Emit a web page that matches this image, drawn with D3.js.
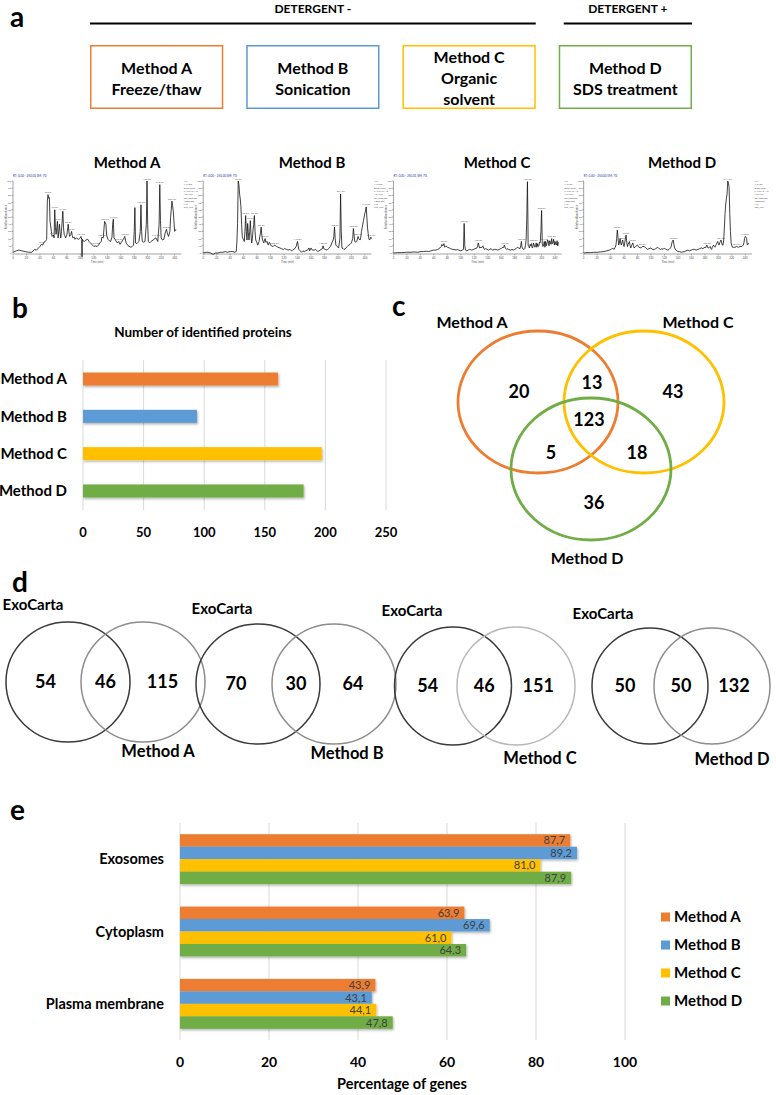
<!DOCTYPE html>
<meta charset="utf-8">
<style>
body { margin: 0; background: #fff; }
svg { font-family: Lato, "Open Sans", sans-serif; }
</style>
<svg width="776" height="1095"></svg>
<script src="https://d3js.org/d3.v7.min.js"></script>
<script>

var methods = ["Method A", "Method B", "Method C", "Method D"];
var methodColors = ["#ED7D31", "#5B9BD5", "#FFC000", "#70AD47"];
var methodSteps = [["Method A", "Freeze/thaw"], ["Method B", "Sonication"], ["Method C", "Organic", "solvent"], ["Method D", "SDS treatment"]];
var detergentGroups = [{label: "DETERGENT -", from: 0, to: 2}, {label: "DETERGENT +", from: 3, to: 3}];

// base peak chromatograms: [retention time (min), relative abundance (%)]
var chromA = [[0,1],[5,3],[9,4],[13,3],[18,2],[23,1],[28,1],[32,5],[35,4],[37,6],[40,9],[42,12],[44,11],[46,15],[48,16],[50,19],[51,72],[52,81],[53,76],[54,77],[55,44],[57,30],[58,23],[60,25],[61,21],[62,60],[63,35],[64,26],[65,35],[66,44],[67,21],[68,30],[69,40],[70,28],[71,21],[72,30],[74,58],[75,35],[76,26],[77,24],[78,21],[80,25],[82,40],[83,30],[84,23],[86,26],[87,30],[88,24],[89,21],[91,22],[92,19],[94,21],[97,19],[99,20],[101,23],[102,19],[102.5,-5],[103,19],[104,17],[106,16],[108,18],[111,19],[113,16],[115,14],[117,12],[120,9],[122,10],[125,9],[127,11],[129,14],[131,16],[132,22],[134,21],[135,32],[136,44],[137,42],[138,40],[139,25],[141,19],[143,17],[145,16],[147,22],[148,40],[149,47],[150,21],[152,18],[155,14],[157,16],[159,12],[161,15],[164,19],[165,21],[166,23],[167,18],[168,14],[171,10],[175,8],[177,9],[179,11],[180,30],[181,63],[182,14],[184,13],[187,16],[189,30],[190,67],[191,30],[192,16],[194,15],[196,16],[198,40],[199,100],[200,40],[201,16],[203,14],[205,16],[208,18],[212,21],[214,18],[215,16],[217,40],[218,95],[219,45],[220,21],[222,18],[224,19],[226,28],[228,33],[229,28],[231,23],[233,30],[234,49],[235,60],[236,72],[237,66],[238,58],[239,45],[240,30],[242,33]];
var chromB = [[0,0],[4,1],[7,1],[11,0],[15,-2],[18,0],[22,0],[26,1],[29,1],[33,2],[36,1],[40,2],[44,2],[47,1],[49,2],[50,15],[51,41],[52,100],[53,95],[54,82],[55,75],[56,64],[57,40],[58,23],[59,20],[61,16],[62,30],[63,52],[64,30],[65,18],[66,41],[67,28],[68,18],[69,30],[70,45],[71,25],[72,14],[73,20],[74,32],[75,40],[76,52],[77,30],[78,18],[80,14],[81,11],[83,16],[84,23],[85,28],[86,36],[87,25],[88,18],[89,16],[90,14],[91,18],[92,20],[93,15],[95,16],[96,12],[97,11],[98,15],[99,14],[101,10],[104,9],[106,11],[109,9],[111,8],[114,7],[116,6],[119,5],[121,6],[124,5],[126,4],[129,5],[131,3],[133,4],[136,6],[138,9],[140,16],[141,10],[142,5],[144,3],[146,1],[148,3],[150,2],[152,3],[155,4],[157,7],[158,3],[160,7],[162,4],[165,4],[167,5],[170,2],[172,3],[175,5],[177,6],[178,10],[179,6],[181,5],[184,4],[186,6],[187,7],[189,9],[191,14],[193,18],[194,23],[195,36],[196,20],[197,11],[199,9],[201,7],[203,20],[204,82],[205,30],[206,7],[208,6],[209,5],[211,6],[212,7],[214,9],[216,11],[218,12],[220,14],[222,20],[223,34],[224,25],[225,16],[227,15],[228,16],[230,23],[231,20],[233,18],[234,22],[235,30],[236,35],[238,45],[239,50],[240,55],[241,58],[242,64],[243,50],[244,35],[245,27],[246,20],[247,18],[249,22],[250,20]];
var chromC = [[0,0],[6,0.5],[12,0.5],[19,1],[26,1],[31,1.5],[36,1],[41,2],[45,2],[49,2.5],[52,2],[56,3],[59,4],[63,4],[66,5],[69,7],[71,9],[72,12],[73,10],[74,11],[75,13],[76,8],[77,9],[78,10],[80,8],[83,7],[85,6],[88,5],[90,5],[93,4],[95,5],[97,4],[100,3],[102,4],[104,5],[105,41],[106,10],[107,4],[109,3],[111,4],[113,5],[114,5],[116,4],[119,5],[121,6],[124,7],[125,10],[126,14],[127,10],[128,7],[130,8],[131,7],[132,9],[133,10],[134,7],[135,5],[137,6],[139,5],[141,4],[143,5],[145,6],[147,4],[150,5],[152,5],[155,4],[157,5],[159,6],[160,6],[162,8],[163,7],[164,9],[165,11],[166,7],[168,5],[170,6],[171,5],[174,4],[176,5],[178,4],[180,5],[182,6],[184,8],[186,7],[188,6],[189,10],[190,16],[191,8],[192,6],[194,5],[195,6],[196,10],[197,18],[198,45],[199,99],[199.8,40],[200,11],[201,9],[202,7],[203,12],[204,10],[205,13],[206,7],[207,8],[208,14],[209,11],[210,8],[211,9],[212,14],[213,8],[214,13],[215,9],[216,10],[217,15],[218,14],[219,30],[220,59],[220.8,25],[221,13],[222,9],[223,11],[224,16],[225,8],[226,16],[227,10],[228,13],[229,18],[230,16],[231,10],[232,17],[233,15],[234,12],[235,20],[236,13],[237,14],[238,19],[239,11],[240,16],[241,12],[242,11],[243,17],[244,10],[245,15]];
var chromD = [[0,0],[5,0.5],[10,0.5],[15,1],[20,1],[25,1.5],[30,2],[34,3],[38,4],[41,5],[43,7],[45,5],[47,8],[48,11],[49,20],[50,32],[51,22],[52,11],[53,14],[54,20],[55,14],[56,11],[57,15],[58,18],[59,12],[60,9],[61,14],[62,20],[63,25],[64,15],[65,9],[66,12],[67,14],[68,16],[69,10],[70,7],[71,10],[72,12],[73,14],[74,10],[75,7],[77,9],[80,11],[82,8],[85,7],[87,9],[90,9],[92,7],[95,5],[97,6],[100,7],[102,5],[105,5],[107,6],[110,8],[112,6],[114,5],[116,6],[118,5],[120,7],[122,5],[125,4],[127,5],[129,7],[130,9],[131,14],[132,17],[133,18],[134,12],[135,7],[137,4],[140,2],[142,2],[145,1],[147,1.5],[150,2],[152,3],[155,4],[157,3],[160,4],[162,5],[165,5],[167,4],[170,5],[172,6],[175,7],[177,6],[180,8],[181,7],[183,11],[184,8],[185,7],[187,8],[188,9],[189,6],[190,5],[191,8],[193,11],[194,9],[195,8],[196,10],[197,12],[199,16],[200,13],[201,11],[202,14],[203,16],[204,18],[205,14],[206,11],[207,11],[208,18],[209,36],[210,55],[211,68],[212,76],[213,82],[214,100],[215,97],[216,91],[217,55],[218,30],[219,14],[220,10],[221,8],[223,8],[225,8],[227,9],[230,8],[232,9],[235,9],[237,11],[238,14],[239,20],[240,23],[241,22],[242,20],[243,11],[244,12],[245,14]];
var chromTraces = [chromA, chromB, chromC, chromD];
var chromTimeTicks = [0, 20, 40, 60, 80, 100, 120, 140, 160, 180, 200, 220, 240];
var chromAbundTicks = [0, 10, 20, 30, 40, 50, 60, 70, 80, 90, 100];
var chromHeaders = ["RT: 0.00 - 250.00 SM: 7G", "RT: 0.00 - 250.00 SM: 7G", "RT: 0.00 - 250.01 SM: 7G", "RT: 0.00 - 250.00 SM: 7G"];
var chromNotes = ["NL:", "1.21E9", "Base Peak", "F: FTMS + p", "NSI Full", "ms [350.00-", "1800.00]", "MS", "exo_run"];

var proteinCounts = [161, 94, 197, 182];
var countTicks = [0, 50, 100, 150, 200, 250];

var vennCNames = ["Method A", "Method C", "Method D"];
var vennCColors = ["#ED7D31", "#FFC000", "#70AD47"];
var vennCRegions = ["A", "AC", "C", "ACD", "AD", "CD", "D"];
var vennCCounts = [20, 13, 43, 123, 5, 18, 36];

var exoOnly = [54, 70, 54, 50];
var exoShared = [46, 30, 46, 50];
var methodOnly = [115, 64, 151, 132];

var compartments = ["Exosomes", "Cytoplasm", "Plasma membrane"];
var pctA = [87.7, 63.9, 43.9];
var pctB = [89.2, 69.6, 43.1];
var pctC = [81.0, 61.0, 44.1];
var pctD = [87.9, 64.3, 47.8];
var pctTicks = [0, 20, 40, 60, 80, 100];

var svg = d3.select("svg");

var defs = svg.append("defs");
defs.append("filter").attr("id", "shadow").attr("x", "-5%").attr("y", "-20%").attr("width", "115%").attr("height", "160%")
  .append("feDropShadow").attr("dx", 1).attr("dy", 1.5).attr("stdDeviation", 1).attr("flood-color", "#000").attr("flood-opacity", 0.3);

// panel letters
[["a", 10, 27], ["b", 12, 318], ["c", 392, 316], ["d", 12, 592], ["e", 10, 820]].forEach(function(p) {
  svg.append("text").attr("x", p[1]).attr("y", p[2]).attr("font-size", 28).attr("font-weight", "bold").text(p[0]);
});

// ---- a: protocols ----
var boxX = d3.scaleBand().domain(methods).range([90, 692]).paddingInner(0.147);

detergentGroups.forEach(function(g) {
  var x0 = boxX(methods[g.from]) + (g.from ? 5 : 0),
      x1 = boxX(methods[g.to]) + boxX.bandwidth();
  svg.append("line").attr("x1", x0).attr("x2", x1).attr("y1", 23.5).attr("y2", 23.5)
    .attr("stroke", "#000").attr("stroke-width", 2);
  svg.append("text").attr("x", (x0 + x1) / 2).attr("y", 13).attr("text-anchor", "middle")
    .attr("font-size", 12).attr("font-weight", "bold").text(g.label);
});

var box = svg.selectAll(".box").data(methods).enter().append("g")
  .attr("transform", function(d) { return "translate(" + boxX(d) + ",45)"; });
box.append("rect").attr("x", 0.75).attr("y", 0.75)
  .attr("width", boxX.bandwidth() - 1.5).attr("height", 62.5)
  .attr("fill", "none").attr("stroke-width", 1.5)
  .attr("stroke", function(d, i) { return methodColors[i]; });
box.append("text").attr("text-anchor", "middle").attr("font-size", 16).attr("font-weight", "bold")
  .selectAll("tspan").data(function(d, i) { return methodSteps[i].map(function(s, j, a) { return {s: s, j: j, n: a.length}; }); })
  .enter().append("tspan")
    .attr("x", boxX.bandwidth() / 2)
    .attr("y", function(d) { return 33 + (d.j - (d.n - 1) / 2) * 21 + 6; })
    .text(function(d) { return d.s; });

// chromatograms
var chromX = d3.scaleBand().domain(methods).range([13, 752]).paddingInner(0.115);
var chromTitleX = d3.scalePoint().domain(methods).range([127, 682]);
var chromY = d3.scaleLinear().domain([0, 100]).range([253, 181]);

methods.forEach(function(m, i) {
  var g = svg.append("g").attr("transform", "translate(" + chromX(m) + ",0)");
  var t = d3.scaleLinear().domain([0, 250]).range([0, chromX.bandwidth()]);
  var data = chromTraces[i];

  svg.append("text").attr("x", chromTitleX(m)).attr("y", 168).attr("text-anchor", "middle")
    .attr("font-size", 15).attr("font-weight", "bold").text(m);

  g.append("text").attr("x", 0).attr("y", 177).attr("font-size", 3).attr("fill", "#2233aa").text(chromHeaders[i]);

  g.append("line").attr("x1", 0).attr("x2", 0).attr("y1", chromY(100)).attr("y2", chromY(0)).attr("stroke", "#444").attr("stroke-width", 0.5);
  g.append("line").attr("x1", 0).attr("x2", t(250)).attr("y1", chromY(0) + 1).attr("y2", chromY(0) + 1).attr("stroke", "#444").attr("stroke-width", 0.5);

  var yt = g.selectAll(".yt").data(chromAbundTicks).enter().append("g");
  yt.append("line").attr("x1", -1.5).attr("x2", 0).attr("y1", chromY).attr("y2", chromY).attr("stroke", "#444").attr("stroke-width", 0.4);
  yt.append("text").attr("x", -2).attr("y", function(d) { return chromY(d) + 1; }).attr("text-anchor", "end")
    .attr("font-size", 2.6).attr("fill", "#555").text(function(d) { return d; });
  g.append("text").attr("transform", "translate(-6," + chromY(50) + ") rotate(-90)").attr("text-anchor", "middle")
    .attr("font-size", 2.8).attr("fill", "#555").text("Relative Abundance");

  var xt = g.selectAll(".xt").data(chromTimeTicks).enter().append("g");
  xt.append("line").attr("x1", t).attr("x2", t).attr("y1", chromY(0) + 1).attr("y2", chromY(0) + 2.5).attr("stroke", "#444").attr("stroke-width", 0.4);
  xt.append("text").attr("x", t).attr("y", chromY(0) + 6).attr("text-anchor", "middle")
    .attr("font-size", 2.8).attr("fill", "#555").text(function(d) { return d; });
  g.append("text").attr("x", t(125)).attr("y", chromY(0) + 10).attr("text-anchor", "middle")
    .attr("font-size", 2.8).attr("fill", "#555").text("Time (min)");

  g.append("path").datum(data)
    .attr("d", d3.line().x(function(d) { return t(d[0]); }).y(function(d) { return chromY(d[1]); }))
    .attr("fill", "none").attr("stroke", "#111").attr("stroke-width", 0.8);

  // label local maxima with their retention time, skipping ones too close to a taller labelled peak
  var peaks = data.filter(function(d, k) {
    return k > 0 && k < data.length - 1 && d[1] > 8 && d[1] >= data[k - 1][1] && d[1] >= data[k + 1][1];
  }).sort(function(a, b) { return b[1] - a[1]; });
  var kept = [];
  peaks.forEach(function(p) {
    var clash = kept.some(function(q) { return Math.abs(t(q[0]) - t(p[0])) < 7 && Math.abs(chromY(q[1]) - chromY(p[1])) < 4; });
    if (!clash) kept.push(p);
  });
  g.selectAll(".pk").data(kept).enter().append("text")
    .attr("x", function(d) { return t(d[0]); }).attr("y", function(d) { return chromY(d[1]) - 1.5; })
    .attr("text-anchor", "middle").attr("font-size", 2.6).attr("fill", "#555")
    .text(function(d) { return (d[0] + 0.37).toFixed(2); });

  g.append("text").attr("font-size", 2.6).attr("fill", "#555")
    .selectAll("tspan").data(chromNotes).enter().append("tspan")
      .attr("x", chromX.bandwidth() + 2.5).attr("y", function(d, k) { return 182 + k * 3.3; })
      .text(function(d) { return d; });
});

// ---- b: number of identified proteins ----
var bx = d3.scaleLinear().domain([0, 250]).range([83, 386]);
var by = d3.scaleBand().domain(methods).range([360, 510]).paddingInner(0.65).paddingOuter(0.335);

svg.append("text").attr("x", 203).attr("y", 337).attr("text-anchor", "middle")
  .attr("font-size", 13.5).attr("font-weight", "bold").text("Number of identified proteins");

svg.selectAll(".bgrid").data(countTicks).enter().append("line")
  .attr("x1", bx).attr("x2", bx).attr("y1", 360).attr("y2", 510)
  .attr("stroke", "#d9d9d9").attr("stroke-width", 1);
svg.selectAll(".btick").data(countTicks).enter().append("text")
  .attr("x", bx).attr("y", 537).attr("text-anchor", "middle")
  .attr("font-size", 13).attr("font-weight", "bold").text(function(d) { return d; });

svg.selectAll(".bbar").data(proteinCounts).enter().append("rect")
  .attr("x", bx(0)).attr("y", function(d, i) { return by(methods[i]); })
  .attr("width", function(d) { return bx(d) - bx(0); }).attr("height", by.bandwidth())
  .attr("fill", function(d, i) { return methodColors[i]; }).attr("filter", "url(#shadow)");
svg.selectAll(".blab").data(methods).enter().append("text")
  .attr("x", 67).attr("y", function(d) { return by(d) + by.bandwidth() / 2; })
  .attr("dy", "0.35em").attr("text-anchor", "end")
  .attr("font-size", 15).attr("font-weight", "bold").text(function(d) { return d; });

// ---- c: three-way Venn ----
var vennC = [{cx: 538, cy: 402}, {cx: 644, cy: 402}, {cx: 591, cy: 469}];
var vennCLabelPos = [[472, 328], [698, 328], [587, 564]];
var vennCRegionPos = [[519, 392], [592, 383], [673, 392], [589, 420], [551, 453], [637, 453], [594, 503]];

svg.selectAll(".vc").data(vennC).enter().append("ellipse")
  .attr("cx", function(d) { return d.cx; }).attr("cy", function(d) { return d.cy; })
  .attr("rx", 80).attr("ry", 71).attr("fill", "none").attr("stroke-width", 2.8)
  .attr("stroke", function(d, i) { return vennCColors[i]; });
svg.selectAll(".vcl").data(vennCNames).enter().append("text")
  .attr("x", function(d, i) { return vennCLabelPos[i][0]; }).attr("y", function(d, i) { return vennCLabelPos[i][1]; })
  .attr("text-anchor", "middle").attr("font-size", 16).attr("font-weight", "bold").text(function(d) { return d; });
svg.selectAll(".vcn").data(vennCCounts).enter().append("text")
  .attr("x", function(d, i) { return vennCRegionPos[i][0]; }).attr("y", function(d, i) { return vennCRegionPos[i][1]; })
  .attr("dy", "0.35em").attr("text-anchor", "middle").attr("font-size", 18).attr("font-weight", "bold")
  .text(function(d) { return d; });

// ---- d: overlap with ExoCarta ----
var vennD = [
  {l: [68, 62], r: [143, 62], cy: 682, ry: 60, exo: [33, 610], lab: [158, 757], rc: "#8c8c8c"},
  {l: [258, 62], r: [334, 62], cy: 684, ry: 60, exo: [222, 614], lab: [347, 759], rc: "#8c8c8c"},
  {l: [453, 58.5], r: [516, 59], cy: 686, ry: 59, exo: [412, 616], lab: [540, 764], rc: "#b8b8b8"},
  {l: [650, 58], r: [712, 58], cy: 686, ry: 58, exo: [603, 619], lab: [732, 765], rc: "#8c8c8c"}
];
vennD.forEach(function(v, i) {
  var g = svg.append("g");
  g.append("ellipse").attr("cx", v.l[0]).attr("cy", v.cy).attr("rx", v.l[1]).attr("ry", v.ry)
    .attr("fill", "none").attr("stroke", "#3a3a3a").attr("stroke-width", 1.5);
  g.append("ellipse").attr("cx", v.r[0]).attr("cy", v.cy).attr("rx", v.r[1]).attr("ry", v.ry)
    .attr("fill", "none").attr("stroke", v.rc).attr("stroke-width", 1.5);
  var leftEdge = v.l[0] - v.l[1], rightEdge = v.r[0] + v.r[1],
      innerL = v.r[0] - v.r[1], innerR = v.l[0] + v.l[1];
  var nums = [[(leftEdge + innerL) / 2 + 2, exoOnly[i]], [(innerL + innerR) / 2, exoShared[i]], [(innerR + rightEdge) / 2 - 5, methodOnly[i]]];
  nums.forEach(function(n) {
    g.append("text").attr("x", n[0]).attr("y", v.cy).attr("dy", "0.35em").attr("text-anchor", "middle")
      .attr("font-size", 18).attr("font-weight", "bold").text(n[1]);
  });
  g.append("text").attr("x", v.exo[0]).attr("y", v.exo[1]).attr("text-anchor", "middle")
    .attr("font-size", 15).attr("font-weight", "bold").text("ExoCarta");
  g.append("text").attr("x", v.lab[0]).attr("y", v.lab[1]).attr("text-anchor", "middle")
    .attr("font-size", 16.5).attr("font-weight", "bold").text(methods[i]);
});

// ---- e: cellular component ----
var ex = d3.scaleLinear().domain([0, 100]).range([180, 625]);
var ey0 = d3.scaleBand().domain(compartments).range([823, 1040]).paddingInner(0.31).paddingOuter(0.155);
var ey1 = d3.scaleBand().domain(methods).range([0, ey0.bandwidth()]);
var pctSeries = [pctA, pctB, pctC, pctD];
var commaFmt = function(v) { return d3.format(".1f")(v).replace(".", ","); };

svg.selectAll(".egrid").data(pctTicks).enter().append("line")
  .attr("x1", ex).attr("x2", ex).attr("y1", 823).attr("y2", 1040)
  .attr("stroke", "#d9d9d9").attr("stroke-width", 1);
svg.selectAll(".etick").data(pctTicks).enter().append("text")
  .attr("x", ex).attr("y", 1067).attr("text-anchor", "middle")
  .attr("font-size", 14).attr("font-weight", "bold").text(function(d) { return d; });
svg.append("text").attr("x", 402).attr("y", 1089).attr("text-anchor", "middle")
  .attr("font-size", 14.5).attr("font-weight", "bold").text("Percentage of genes");

var eg = svg.selectAll(".egroup").data(compartments).enter().append("g")
  .attr("transform", function(d) { return "translate(0," + ey0(d) + ")"; });
eg.append("text").attr("x", 164).attr("y", ey0.bandwidth() / 2).attr("dy", "0.35em")
  .attr("text-anchor", "end").attr("font-size", 14.5).attr("font-weight", "bold").text(function(d) { return d; });
methods.forEach(function(m, j) {
  eg.append("rect").attr("x", ex(0)).attr("y", ey1(m))
    .attr("width", function(d, k) { return ex(pctSeries[j][k]) - ex(0); }).attr("height", ey1.bandwidth())
    .attr("fill", methodColors[j]).attr("filter", "url(#shadow)");
});
methods.forEach(function(m, j) {
  eg.append("text").attr("x", function(d, k) { return ex(pctSeries[j][k]) - 5; })
    .attr("y", ey1(m) + ey1.bandwidth() / 2).attr("dy", "0.36em").attr("text-anchor", "end")
    .attr("font-size", 11).attr("fill", "#404040").text(function(d, k) { return commaFmt(pctSeries[j][k]); });
});

var leg = svg.selectAll(".eleg").data(methods).enter().append("g")
  .attr("transform", function(d, i) { return "translate(661," + (917 + i * 28) + ")"; });
leg.append("rect").attr("x", 0).attr("y", -4.5).attr("width", 9).attr("height", 9)
  .attr("fill", function(d, i) { return methodColors[i]; });
leg.append("text").attr("x", 13).attr("dy", "0.35em").attr("font-size", 15).attr("font-weight", "bold")
  .text(function(d) { return d; });

</script>
